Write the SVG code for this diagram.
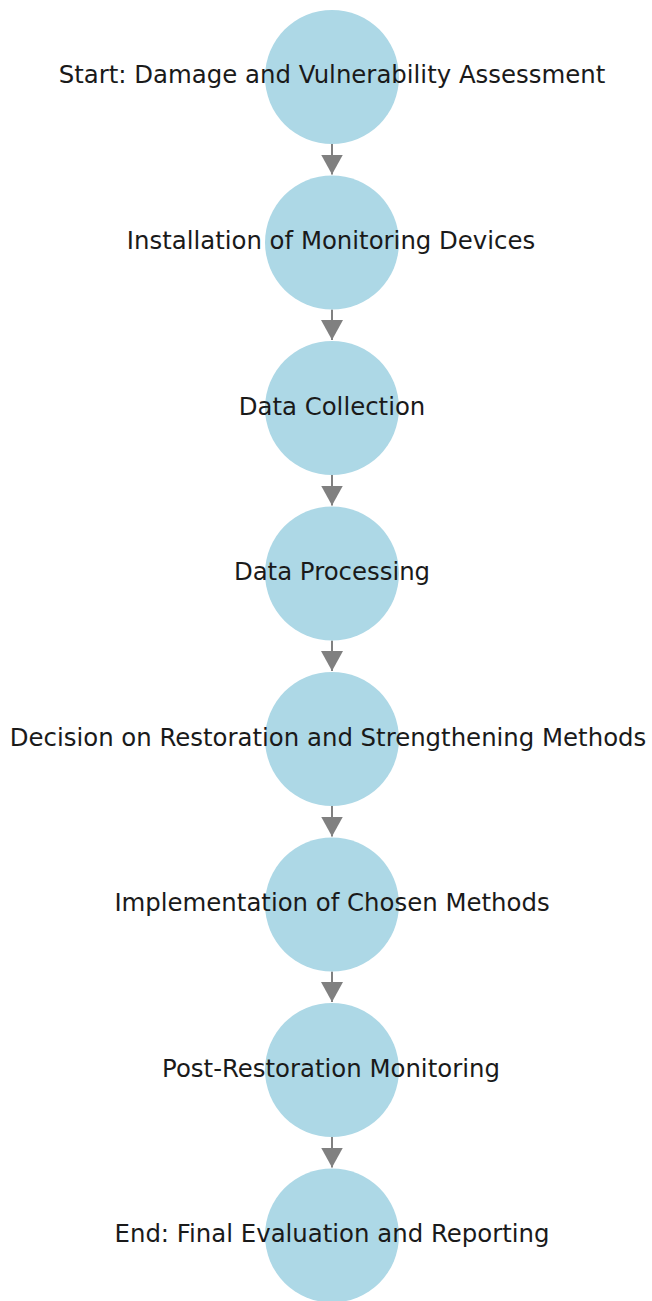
<svg xmlns="http://www.w3.org/2000/svg" width="652" height="1301" viewBox="0 0 652 1301">
<style>
.node circle{fill:#add8e6;stroke:none}
.node text{font-family:"DejaVu Sans",sans-serif;font-size:24.4px;fill:#1a1a1a;text-anchor:middle}
.edge{stroke:#808080;stroke-width:2;fill:none}
</style>
<defs>
<marker id="ah" markerUnits="userSpaceOnUse" markerWidth="24" markerHeight="22" refX="20" refY="11" orient="auto">
<path d="M0,0 L20,11 L0,22 Z" fill="#808080"/>
</marker>
</defs>
<rect width="652" height="1301" fill="#ffffff"/>
<g id="connectors">
<line class="edge" x1="332" y1="144" x2="332" y2="174.5" marker-end="url(#ah)"/>
<line class="edge" x1="332" y1="309.5" x2="332" y2="340" marker-end="url(#ah)"/>
<line class="edge" x1="332" y1="475" x2="332" y2="505.5" marker-end="url(#ah)"/>
<line class="edge" x1="332" y1="640.5" x2="332" y2="671" marker-end="url(#ah)"/>
<line class="edge" x1="332" y1="806" x2="332" y2="836.5" marker-end="url(#ah)"/>
<line class="edge" x1="332" y1="971.5" x2="332" y2="1002" marker-end="url(#ah)"/>
<line class="edge" x1="332" y1="1137" x2="332" y2="1167.5" marker-end="url(#ah)"/>
</g>
<g id="n1" class="node"><circle cx="332" cy="77" r="67"/><text x="332" y="83">Start: Damage and Vulnerability Assessment</text></g>
<g id="n2" class="node"><circle cx="332" cy="242.5" r="67"/><text x="331" y="249">Installation of Monitoring Devices</text></g>
<g id="n3" class="node"><circle cx="332" cy="408" r="67"/><text x="332" y="414.5">Data Collection</text></g>
<g id="n4" class="node"><circle cx="332" cy="573.5" r="67"/><text x="332" y="580">Data Processing</text></g>
<g id="n5" class="node"><circle cx="332" cy="739" r="67"/><text x="328" y="745.5">Decision on Restoration and Strengthening Methods</text></g>
<g id="n6" class="node"><circle cx="332" cy="904.5" r="67"/><text x="332" y="911">Implementation of Chosen Methods</text></g>
<g id="n7" class="node"><circle cx="332" cy="1070" r="67"/><text x="331" y="1076.5">Post-Restoration Monitoring</text></g>
<g id="n8" class="node"><circle cx="332" cy="1235.5" r="67"/><text x="332" y="1242">End: Final Evaluation and Reporting</text></g>
</svg>
